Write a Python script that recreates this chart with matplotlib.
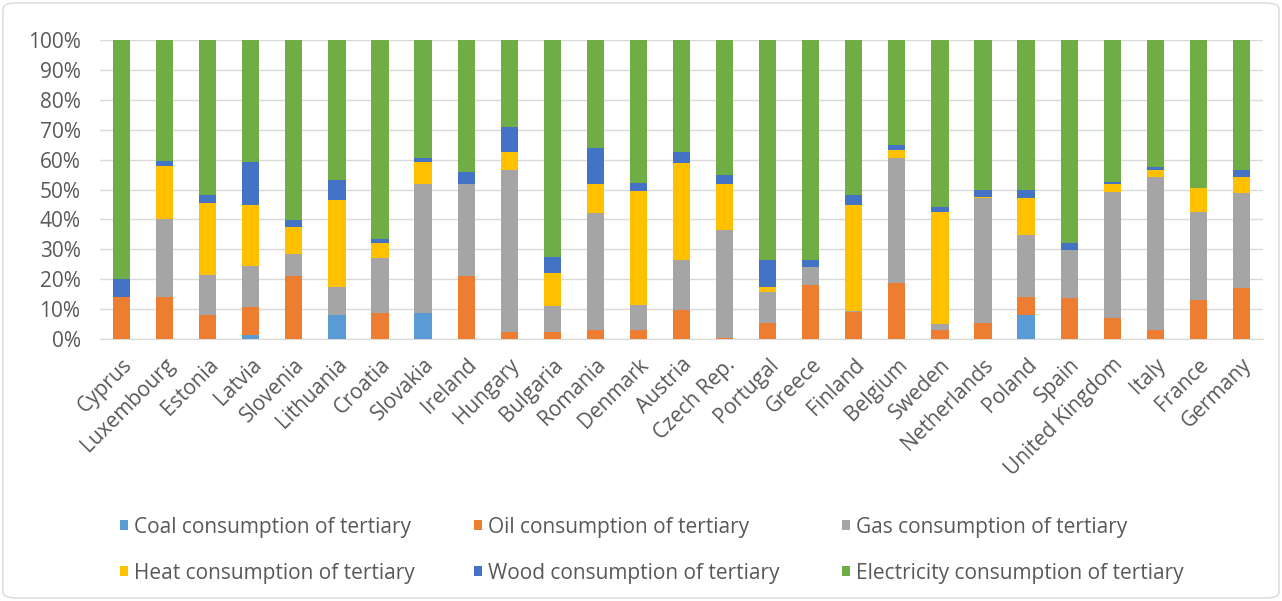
import matplotlib
matplotlib.use("Agg")
import matplotlib.pyplot as plt
import numpy as np
from matplotlib.patches import Patch, FancyBboxPatch

plt.rcParams['font.family'] = ['Open Sans', 'DejaVu Sans']

countries = ["Cyprus", "Luxembourg", "Estonia", "Latvia", "Slovenia", "Lithuania",
             "Croatia", "Slovakia", "Ireland", "Hungary", "Bulgaria", "Romania",
             "Denmark", "Austria", "Czech Rep.", "Portugal", "Greece", "Finland",
             "Belgium", "Sweden", "Netherlands", "Poland", "Spain", "United Kingdom",
             "Italy", "France", "Germany"]

coal = [0, 0, 0, 1.3, 0, 8, 0, 8.6, 0, 0, 0, 0, 0, 0, 0, 0, 0, 0, 0, 0, 0, 8, 0, 0, 0, 0, 0]
oil = [14, 14, 8, 9.5, 21, 0, 8.6, 0, 21, 2.5, 2.5, 3, 3, 9.7, 0.5, 5.2, 18, 9.1, 18.6, 3, 5.2, 6, 13.6, 6.9, 3, 13, 17]
gas = [0, 26, 13.5, 13.5, 7.5, 9.5, 18.4, 43.4, 31, 54, 8.5, 39, 8.4, 16.7, 36, 10.6, 6.2, 0.3, 41.8, 2, 41.8, 20.8, 16.2, 42.4, 51.3, 29.6, 31.7]
heat = [0, 18, 24, 20.5, 9, 29, 5, 7.3, 0, 6.2, 11, 10, 38, 32.4, 15.5, 1.7, 0, 35.4, 2.8, 37.6, 0.5, 12.2, 0, 2.5, 2.2, 7.8, 5.6]
wood = [6, 1.5, 2.5, 14.5, 2.3, 6.7, 1.3, 1.1, 4, 8.3, 5.5, 12, 2.7, 3.9, 2.8, 8.9, 2.2, 3.4, 1.7, 1.7, 2.5, 2.8, 2.2, 0.8, 1.1, 0, 2.2]
electricity = [80, 40.5, 52, 40.7, 60.2, 46.8, 66.7, 39.6, 44, 29, 72.5, 36, 47.9, 37.3, 45.2, 73.6, 73.6, 51.8, 35.1, 55.7, 50, 50.2, 68, 47.4, 42.4, 49.6, 43.5]

series_names = ["Coal consumption of tertiary", "Oil consumption of tertiary",
                "Gas consumption of tertiary", "Heat consumption of tertiary",
                "Wood consumption of tertiary", "Electricity consumption of tertiary"]
series = [coal, oil, gas, heat, wood, electricity]
colors = ["#5B9BD5", "#ED7D31", "#A5A5A5", "#FFC000", "#4472C4", "#70AD47"]

W, H = 1282, 601
FS = 15
TXT = "#595959"
fig = plt.figure(figsize=(W / 100, H / 100), dpi=100)
ax = fig.add_axes([100 / W, 1 - 339 / H, 1163 / W, 299 / H])

x = np.arange(len(countries))
data = np.array(series, dtype=float)
totals = data.sum(axis=0)
pct = data / totals * 100
bottom = np.zeros(len(countries))
for vals, c, name in zip(pct, colors, series_names):
    ax.bar(x, vals, bottom=bottom, width=0.4, color=c, label=name, zorder=3)
    bottom += vals

ax.set_xlim(-0.5, len(countries) - 0.5)
ax.set_ylim(0, 100)
ax.set_yticks(np.arange(0, 101, 10))
ax.set_yticklabels([f"{v}%" for v in range(0, 101, 10)])
ax.yaxis.grid(True, color="#D9D9D9", linewidth=1, zorder=0)
ax.set_axisbelow(True)
for s in ["top", "right", "left"]:
    ax.spines[s].set_visible(False)
ax.spines["bottom"].set_color("#D9D9D9")
ax.tick_params(axis="both", length=0, colors=TXT, labelsize=FS)
ax.tick_params(axis="y", pad=14)
ax.set_xticks(x)
ax.set_xticklabels(countries, rotation=45, ha="right", rotation_mode="anchor")
ax.tick_params(axis="x", pad=11)

handles = [Patch(facecolor=c) for c in colors]
col_x = [120, 474, 842]
row_y = [527, 573]
for i, (h, name) in enumerate(zip(handles, series_names)):
    cx = col_x[i % 3]
    cy = row_y[i // 3]
    fig.legend([h], [name], loc="center left",
               bbox_to_anchor=(cx / W, 1 - cy / H),
               frameon=False, fontsize=FS, labelcolor=TXT,
               handlelength=0.4, handleheight=0.4, handletextpad=0.25,
               borderaxespad=0, borderpad=0)

border = FancyBboxPatch((3 / W, 3 / H), 1 - 6 / W, 1 - 6 / H,
                        boxstyle="round,pad=0,rounding_size=0.01",
                        transform=fig.transFigure, facecolor="none",
                        edgecolor="#D9D9D9", linewidth=1)
fig.patches.append(border)

fig.savefig("out.png", dpi=100)
